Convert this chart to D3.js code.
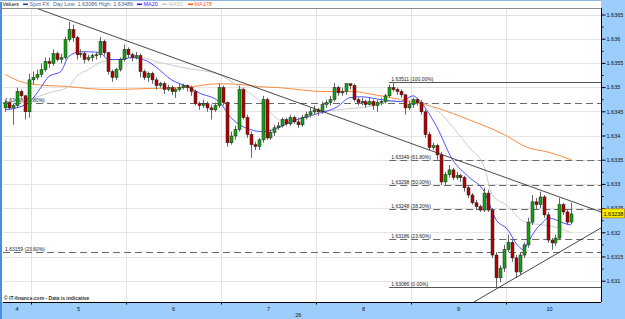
<!DOCTYPE html>
<html>
<head>
<meta charset="utf-8">
<script src="https://cdn.jsdelivr.net/npm/d3@7"></script>
<style>
body { margin: 0; background: #fff; }
svg { display: block; font-family: "Liberation Sans", Arial, sans-serif; }
</style>
</head>
<body>
<svg id="chart"></svg>
<script>
// hourly candles, first one opens day 4 17:00 (hours counted from day 4 00:00)
let firstHour = 17;

// [open, high, low, close]
let candles = [
    [1.63457,1.63474,1.63449,1.63468],[1.63468,1.63470,1.63453,1.63457],[1.63457,1.63466,1.63422,1.63462],
    [1.63462,1.63499,1.63457,1.63491],[1.63491,1.63495,1.63478,1.63482],[1.63482,1.63484,1.63433,1.63449],
    [1.63449,1.63528,1.63437,1.63515],
    // day 5
    [1.63515,1.63532,1.63505,1.63520],[1.63520,1.63536,1.63515,1.63526],[1.63526,1.63549,1.63520,1.63536],
    [1.63536,1.63561,1.63532,1.63553],[1.63553,1.63561,1.63540,1.63549],[1.63549,1.63578,1.63544,1.63569],
    [1.63569,1.63573,1.63553,1.63557],[1.63557,1.63569,1.63549,1.63561],[1.63561,1.63604,1.63557,1.63598],
    [1.63598,1.63635,1.63594,1.63619],[1.63619,1.63629,1.63594,1.63602],[1.63602,1.63606,1.63557,1.63567],
    [1.63567,1.63578,1.63561,1.63569],[1.63569,1.63573,1.63549,1.63557],[1.63557,1.63567,1.63553,1.63561],
    [1.63561,1.63569,1.63553,1.63565],[1.63565,1.63573,1.63557,1.63567],[1.63567,1.63604,1.63561,1.63594],
    [1.63594,1.63598,1.63565,1.63571],[1.63571,1.63573,1.63526,1.63532],[1.63532,1.63536,1.63511,1.63520],
    [1.63520,1.63540,1.63515,1.63536],[1.63536,1.63561,1.63532,1.63557],[1.63557,1.63588,1.63553,1.63578],
    // day 6
    [1.63578,1.63582,1.63561,1.63567],[1.63567,1.63571,1.63553,1.63561],[1.63561,1.63573,1.63557,1.63565],
    [1.63565,1.63569,1.63520,1.63532],[1.63532,1.63536,1.63515,1.63520],[1.63520,1.63532,1.63511,1.63528],
    [1.63528,1.63532,1.63507,1.63515],[1.63515,1.63520,1.63495,1.63503],[1.63503,1.63511,1.63499,1.63507],
    [1.63507,1.63511,1.63486,1.63495],[1.63495,1.63505,1.63491,1.63499],[1.63499,1.63503,1.63484,1.63491],
    [1.63491,1.63499,1.63478,1.63495],[1.63495,1.63507,1.63491,1.63499],[1.63499,1.63507,1.63495,1.63503],
    [1.63503,1.63505,1.63491,1.63499],[1.63499,1.63503,1.63482,1.63491],[1.63491,1.63495,1.63462,1.63466],
    [1.63466,1.63470,1.63453,1.63462],[1.63462,1.63474,1.63457,1.63466],[1.63466,1.63470,1.63449,1.63457],
    [1.63457,1.63464,1.63433,1.63453],[1.63453,1.63468,1.63449,1.63462],[1.63462,1.63507,1.63457,1.63499],
    // day 7
    [1.63499,1.63503,1.63462,1.63468],[1.63468,1.63470,1.63377,1.63385],[1.63385,1.63408,1.63381,1.63399],
    [1.63399,1.63420,1.63391,1.63412],[1.63412,1.63503,1.63408,1.63495],[1.63495,1.63499,1.63433,1.63437],
    [1.63437,1.63443,1.63395,1.63402],[1.63402,1.63408,1.63354,1.63381],[1.63381,1.63387,1.63370,1.63377],
    [1.63377,1.63395,1.63370,1.63391],[1.63391,1.63482,1.63385,1.63474],[1.63474,1.63478,1.63391,1.63395],
    [1.63395,1.63412,1.63391,1.63406],[1.63406,1.63422,1.63399,1.63416],[1.63416,1.63428,1.63412,1.63420],
    [1.63420,1.63437,1.63416,1.63433],[1.63433,1.63437,1.63420,1.63424],[1.63424,1.63443,1.63420,1.63437],
    [1.63437,1.63441,1.63424,1.63428],[1.63428,1.63437,1.63416,1.63422],[1.63422,1.63443,1.63418,1.63437],
    [1.63437,1.63449,1.63433,1.63443],[1.63443,1.63457,1.63437,1.63449],[1.63449,1.63462,1.63443,1.63453],
    // day 8
    [1.63453,1.63457,1.63441,1.63449],[1.63449,1.63470,1.63445,1.63464],[1.63464,1.63474,1.63457,1.63468],
    [1.63468,1.63482,1.63462,1.63474],[1.63474,1.63509,1.63470,1.63499],[1.63499,1.63503,1.63482,1.63488],
    [1.63488,1.63499,1.63482,1.63491],[1.63491,1.63507,1.63484,1.63507],[1.63507,1.63505,1.63495,1.63503],
    [1.63503,1.63507,1.63470,1.63474],[1.63474,1.63478,1.63462,1.63468],[1.63468,1.63478,1.63462,1.63470],
    [1.63470,1.63474,1.63457,1.63464],[1.63464,1.63478,1.63462,1.63470],[1.63470,1.63474,1.63453,1.63462],
    [1.63462,1.63474,1.63449,1.63468],[1.63468,1.63478,1.63462,1.63470],[1.63470,1.63486,1.63466,1.63482],
    [1.63482,1.63505,1.63478,1.63499],[1.63499,1.63511,1.63491,1.63495],[1.63495,1.63499,1.63484,1.63491],
    [1.63491,1.63495,1.63478,1.63484],[1.63484,1.63486,1.63443,1.63457],[1.63457,1.63470,1.63453,1.63464],
    // day 9
    [1.63464,1.63478,1.63457,1.63474],[1.63474,1.63478,1.63462,1.63468],[1.63468,1.63474,1.63443,1.63449],
    [1.63449,1.63453,1.63395,1.63402],[1.63402,1.63408,1.63370,1.63375],[1.63375,1.63385,1.63370,1.63379],
    [1.63379,1.63383,1.63350,1.63360],[1.63360,1.63366,1.63298,1.63304],[1.63304,1.63325,1.63298,1.63319],
    [1.63319,1.63339,1.63313,1.63329],[1.63329,1.63333,1.63308,1.63313],[1.63313,1.63325,1.63308,1.63317],
    [1.63317,1.63321,1.63304,1.63313],[1.63313,1.63317,1.63284,1.63292],[1.63292,1.63296,1.63271,1.63277],
    [1.63277,1.63281,1.63257,1.63261],[1.63261,1.63267,1.63246,1.63253],[1.63253,1.63257,1.63242,1.63246],
    [1.63246,1.63292,1.63242,1.63281],[1.63281,1.63288,1.63242,1.63246],[1.63246,1.63250,1.63147,1.63153],
    [1.63153,1.63159,1.63086,1.63106],[1.63106,1.63132,1.63097,1.63126],[1.63126,1.63174,1.63118,1.63164],
    // day 10
    [1.63164,1.63195,1.63159,1.63179],[1.63179,1.63184,1.63139,1.63147],[1.63147,1.63153,1.63106,1.63118],
    [1.63118,1.63159,1.63112,1.63153],[1.63153,1.63179,1.63147,1.63174],[1.63174,1.63230,1.63168,1.63221],
    [1.63221,1.63277,1.63215,1.63263],[1.63263,1.63271,1.63246,1.63257],[1.63257,1.63284,1.63250,1.63273],
    [1.63273,1.63277,1.63230,1.63236],[1.63236,1.63242,1.63178,1.63184],[1.63184,1.63188,1.63164,1.63178],
    [1.63178,1.63195,1.63172,1.63188],[1.63188,1.63271,1.63184,1.63257],[1.63257,1.63261,1.63236,1.63242],
    [1.63242,1.63246,1.63215,1.63221],[1.63221,1.63261,1.63217,1.63238]
];

// moving averages, [candle index, value]
let ma20 = [[0,1.63453],[4,1.63460],[6,1.63468],[9,1.63499],[11,1.63522],[14,1.63532],[16,1.63563],
    [19,1.63573],[21,1.63573],[24,1.63571],[26,1.63557],[29,1.63557],[32,1.63561],[36,1.63553],[38,1.63542],
    [42,1.63515],[46,1.63501],[49,1.63488],[54,1.63470],[57,1.63437],[62,1.63412],[65,1.63408],[69,1.63416],
    [72,1.63428],[78,1.63443],[84,1.63460],[87,1.63478],[90,1.63480],[95,1.63474],[100,1.63470],[103,1.63482],
    [105,1.63468],[109,1.63418],[113,1.63350],[117,1.63315],[121,1.63284],[124,1.63226],[127,1.63205],
    [129,1.63178],[131,1.63164],[132,1.63178],[134,1.63205],[136,1.63222],[137,1.63230],[139,1.63226],
    [141,1.63219],[143,1.63215]];
let ma50 = [[0,1.63457],[6,1.63474],[11,1.63488],[16,1.63501],[18,1.63522],[21,1.63536],[24,1.63551],
    [28,1.63557],[34,1.63561],[39,1.63551],[45,1.63540],[54,1.63526],[59,1.63501],[64,1.63474],[69,1.63433],
    [71,1.63426],[78,1.63447],[84,1.63453],[92,1.63460],[100,1.63474],[105,1.63468],[109,1.63453],[113,1.63418],
    [117,1.63377],[121,1.63335],[123,1.63278],[127,1.63254],[131,1.63222],[134,1.63217],[139,1.63211],[143,1.63199]];
let ma178 = [[0,1.63526],[4,1.63511],[8,1.63505],[16,1.63501],[21,1.63497],[26,1.63495],[36,1.63497],
    [45,1.63499],[54,1.63507],[60,1.63505],[64,1.63501],[69,1.63499],[74,1.63495],[80,1.63491],[88,1.63491],
    [92,1.63486],[100,1.63474],[109,1.63457],[117,1.63433],[126,1.63402],[132,1.63375],[137,1.63366],[143,1.63350]];

// fibonacci levels
let leftFibPrices = [1.63468, 1.63159];
let leftFibPct = ["61.80%", "23.60%"];
let rightFibPrices = [1.63511, 1.63349, 1.63298, 1.63248, 1.63186, 1.63086];
let rightFibPct = ["100.00%", "61.80%", "50.00%", "38.20%", "23.60%", "0.00%"];
let rightFibFrom = 114.5;

// trend lines [hour, price]
let trendDown = [[25.0, 1.63664], [168.0, 1.63242]];
let trendUp = [[135.9, 1.63056], [168.0, 1.63209]];

let lastPrice = "1.63238";

let yTicks = [1.631, 1.6315, 1.632, 1.6325, 1.633, 1.6335, 1.634, 1.6345, 1.635, 1.6355, 1.636, 1.6365];
let yTickLabels = ["1.631", "1.6315", "1.632", "1.6325", "1.633", "1.6335", "1.634", "1.6345", "1.635", "1.6355", "1.636", "1.6365"];
let yMinor = [1.63125, 1.63175, 1.63225, 1.63275, 1.63325, 1.63375, 1.63425, 1.63475, 1.63525, 1.63575, 1.63625];
let dayBounds = [24, 48, 72, 96, 120, 144];
let dayLabels = ["4", "5", "6", "7", "8", "9", "10"];
let dayLabelHours = [20.5, 36, 60, 84, 108, 132, 155];

let svgW = 625, svgH = 319;
let plot = { left: 3, right: 601, top: 8, bottom: 302 };
let panel = "#9dcdfb";

let xScale = d3.scaleLinear().domain([17, 168]).range([3.3, 601]);
let yScale = d3.scaleLinear().domain([1.631, 1.6365]).range([280.7, 14.5]);

let svg = d3.select("#chart").attr("width", svgW).attr("height", svgH);

svg.append("rect").attr("width", svgW).attr("height", svgH).attr("fill", "#fff");
// blue frame right, bottom, left
svg.append("rect").attr("x", plot.right).attr("y", 0).attr("width", svgW - plot.right).attr("height", svgH).attr("fill", panel);
svg.append("rect").attr("x", 0).attr("y", plot.bottom).attr("width", svgW).attr("height", svgH - plot.bottom).attr("fill", panel);
svg.append("rect").attr("x", 0).attr("y", 2).attr("width", 2).attr("height", svgH).attr("fill", "#4a8ee0");
svg.append("line").attr("x1", 0).attr("x2", plot.right).attr("y1", 0.5).attr("y2", 0.5).attr("stroke", "#8db5dc");

svg.append("clipPath").attr("id", "clip")
    .append("rect").attr("x", plot.left).attr("y", plot.top)
    .attr("width", plot.right - plot.left).attr("height", plot.bottom - plot.top);

let g = svg.append("g").attr("clip-path", "url(#clip)");

// grid
g.selectAll(".hgrid").data(yTicks).enter().append("line")
    .attr("x1", plot.left).attr("x2", plot.right)
    .attr("y1", d => Math.round(yScale(d)) + 0.5).attr("y2", d => Math.round(yScale(d)) + 0.5)
    .attr("stroke", "#e4e4e4");
g.selectAll(".vgrid").data(dayBounds).enter().append("line")
    .attr("x1", d => Math.round(xScale(d)) + 0.5).attr("x2", d => Math.round(xScale(d)) + 0.5)
    .attr("y1", plot.top).attr("y2", plot.bottom)
    .attr("stroke", "#e4e4e4");

// fib lines
let fibStyle = function (sel, dashed) {
    sel.attr("stroke", dashed ? "#6a6a6a" : "#555").attr("stroke-width", 1)
        .attr("stroke-dasharray", dashed ? "7,4" : null);
};
leftFibPrices.forEach(function (p, i) {
    let yy = Math.round(yScale(p)) + 0.5;
    g.append("line").attr("x1", plot.left).attr("x2", plot.right).attr("y1", yy).attr("y2", yy).call(fibStyle, true);
    g.append("text").attr("x", plot.left + 2).attr("y", yy - 2).attr("font-size", 5).attr("fill", "#222")
        .text(p.toFixed(5) + " (" + leftFibPct[i] + ")");
});
rightFibPrices.forEach(function (p, i) {
    let yy = Math.round(yScale(p)) + 0.5;
    let dashed = i > 0 && i < rightFibPrices.length - 1;
    g.append("line").attr("x1", xScale(rightFibFrom)).attr("x2", plot.right).attr("y1", yy).attr("y2", yy).call(fibStyle, dashed);
    g.append("text").attr("x", xScale(rightFibFrom) + 2).attr("y", yy - 2).attr("font-size", 5).attr("fill", "#222")
        .text(p.toFixed(5) + " (" + rightFibPct[i] + ")");
});

// moving averages
let maLine = d3.line()
    .x(d => xScale(firstHour + d[0] + 0.5))
    .y(d => yScale(d[1]))
    .curve(d3.curveMonotoneX);
g.append("path").datum(ma178).attr("d", maLine).attr("fill", "none").attr("stroke", "#ff8a3c").attr("stroke-width", 1);
g.append("path").datum(ma50).attr("d", maLine).attr("fill", "none").attr("stroke", "#cccccc").attr("stroke-width", 1);
g.append("path").datum(ma20).attr("d", maLine).attr("fill", "none").attr("stroke", "#3a3aff").attr("stroke-width", 0.9);

// candles
let cx = (d, i) => xScale(firstHour + i + 0.5);
let candle = g.selectAll(".candle").data(candles).enter().append("g");
candle.append("line")
    .attr("x1", (d, i) => Math.round(cx(d, i)) + 0.5).attr("x2", (d, i) => Math.round(cx(d, i)) + 0.5)
    .attr("y1", d => yScale(d[1])).attr("y2", d => yScale(d[2]))
    .attr("stroke", "#666").attr("stroke-width", 1);
candle.append("rect")
    .attr("x", (d, i) => Math.round(cx(d, i)) - 1)
    .attr("y", d => yScale(Math.max(d[0], d[3])))
    .attr("width", 3)
    .attr("height", d => Math.max(1, Math.abs(yScale(d[0]) - yScale(d[3]))))
    .attr("fill", d => d[3] > d[0] ? "#13a313" : (d[3] < d[0] ? "#b50000" : "#333"))
    .attr("stroke", "#222").attr("stroke-width", 0.5);

// trend lines
[trendDown, trendUp].forEach(function (t) {
    g.append("line")
        .attr("x1", xScale(t[0][0])).attr("y1", yScale(t[0][1]))
        .attr("x2", xScale(t[1][0])).attr("y2", yScale(t[1][1]))
        .attr("stroke", "#333").attr("stroke-width", 0.9);
});

// frame lines
svg.append("line").attr("x1", 0).attr("x2", plot.right).attr("y1", plot.top + 0.5).attr("y2", plot.top + 0.5).attr("stroke", "#8a8a8a");

// right axis
let yAxis = d3.axisRight(yScale).tickValues(yTicks).tickSize(4).tickPadding(1)
    .tickFormat((d, i) => yTickLabels[i]);
let ya = svg.append("g").attr("transform", "translate(" + (plot.right + 0.5) + ",0)").call(yAxis);
ya.select(".domain").attr("d", "M0," + plot.top + "V" + plot.bottom).attr("stroke", "#000");
ya.selectAll("text").attr("font-size", 5.5).attr("font-family", "Liberation Sans, Arial, sans-serif").attr("fill", "#111");
let yMinorAxis = d3.axisRight(yScale).tickValues(yMinor).tickSize(2).tickFormat("");
let ym = svg.append("g").attr("transform", "translate(" + (plot.right + 0.5) + ",0)").call(yMinorAxis);
ym.select(".domain").remove();

// bottom axis
let xAxis = d3.axisBottom(xScale).tickValues(dayBounds).tickSize(2).tickFormat("");
let xa = svg.append("g").attr("transform", "translate(0," + (plot.bottom + 0.5) + ")").call(xAxis);
xa.select(".domain").attr("d", "M" + plot.left + ",0H" + plot.right).attr("stroke", "#000");

svg.selectAll(".daylabel").data(dayLabels).enter().append("text")
    .attr("x", (d, i) => xScale(dayLabelHours[i]))
    .attr("y", 310.5)
    .attr("text-anchor", "middle").attr("font-size", 5.5).attr("fill", "#111")
    .text(d => d);
svg.append("text").attr("x", xScale(91.5)).attr("y", 317).attr("text-anchor", "middle")
    .attr("font-size", 5.5).attr("fill", "#111").text("26");

// last price box
let lp = yScale(+lastPrice);
svg.append("rect").attr("x", plot.right + 1).attr("y", lp - 5).attr("width", 22.5).attr("height", 9)
    .attr("fill", "#ffee00").attr("stroke", "#a07000").attr("stroke-width", 0.6);
svg.append("text").attr("x", plot.right + 2.5).attr("y", lp + 2).attr("font-size", 5.5).attr("fill", "#000")
    .text(lastPrice);

// watermark
svg.append("text").attr("x", 4).attr("y", 300).attr("font-size", 5).attr("font-weight", "bold").attr("fill", "#333")
    .text("\u00a9 IT-finance.com - Data is indicative");

// header legend
let header = svg.append("g").attr("font-size", 5.5);
header.append("text").attr("x", 2.5).attr("y", 6.3).attr("fill", "#111").text("Values");
let legend = [
    { x: 23, text: "Spot FX", color: "#23418a", tcolor: "#4a6490" },
    { x: 137, text: "MA20", color: "#2020ff", tcolor: "#2020ff" },
    { x: 162, text: "MA50", color: "#c8c8c8", tcolor: "#c0c0c0" },
    { x: 188, text: "MA178", color: "#ff5a1a", tcolor: "#ff5a1a" }
];
legend.forEach(function (l) {
    header.append("rect").attr("x", l.x).attr("y", 3.5).attr("width", 5).attr("height", 1.6).attr("fill", l.color);
    header.append("text").attr("x", l.x + 6.5).attr("y", 6.3).attr("fill", l.tcolor).text(l.text);
});
header.append("text").attr("x", 53).attr("y", 6.3).attr("fill", "#4a6490").text("Day Low: 1.63086 High: 1.63486");
</script>
</body>
</html>
